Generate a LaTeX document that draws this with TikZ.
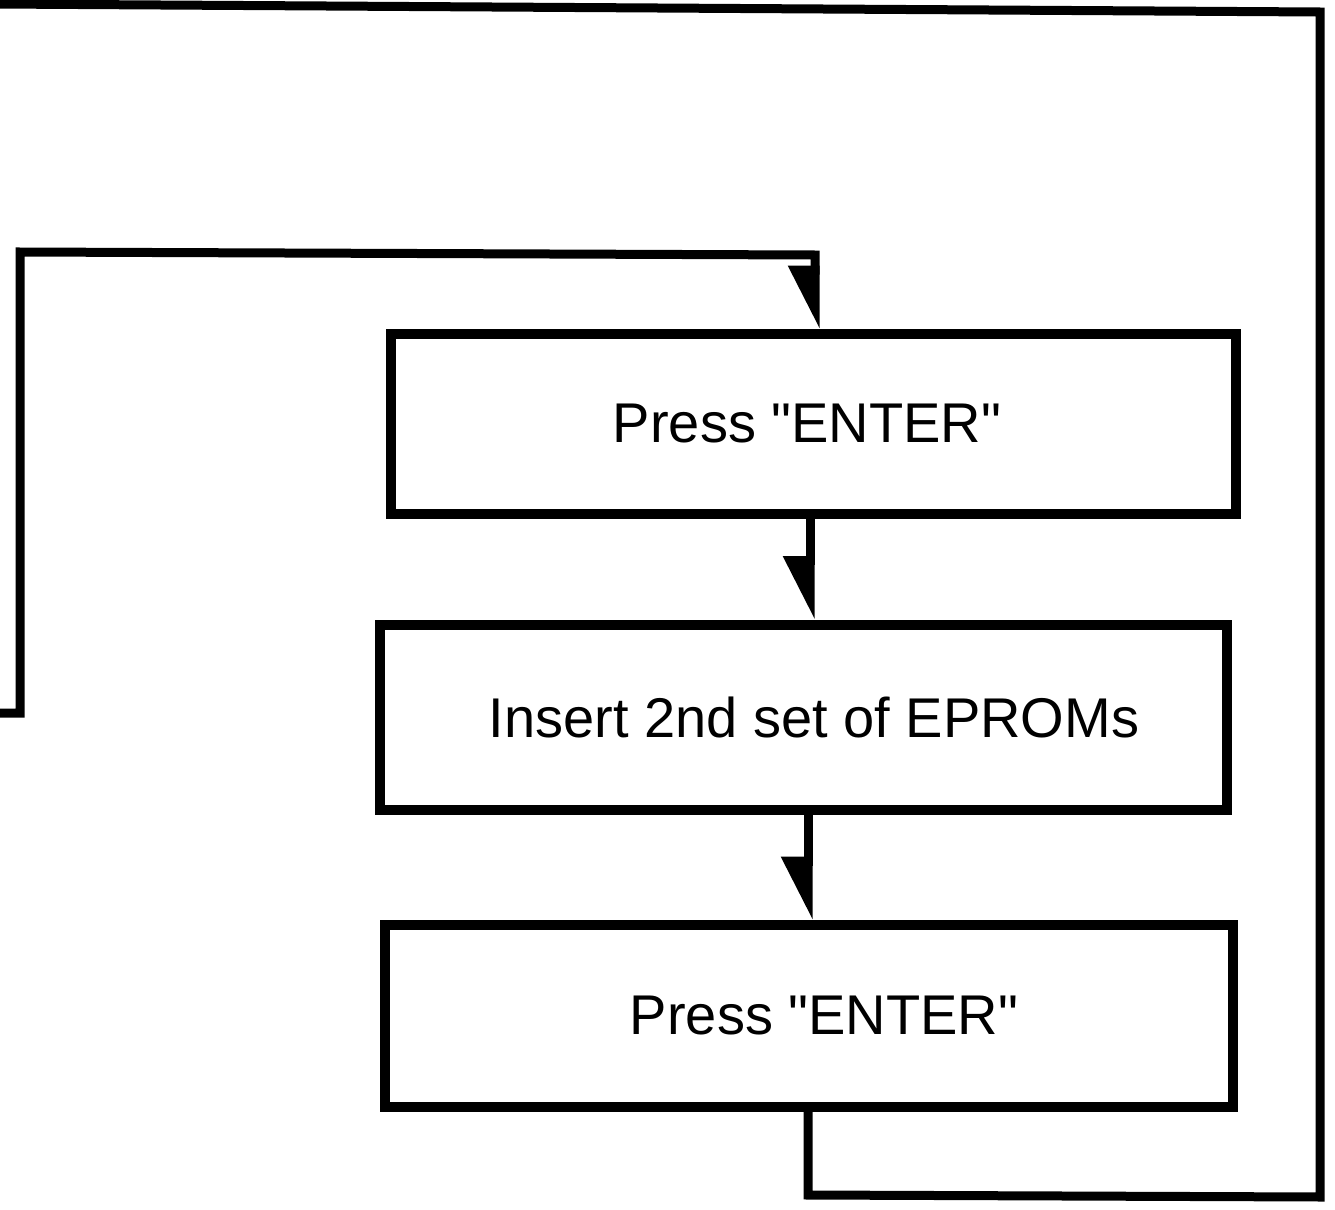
\documentclass[tikz,border=0pt]{standalone}
\usepackage{fontspec}
\newfontfamily\boxfont{Liberation Sans}
\usetikzlibrary{arrows.meta}
\begin{document}
\begin{tikzpicture}[x=0.5pt,y=-0.5pt,
  stepbox/.style={draw,line width=5pt,inner sep=0pt,font=\boxfont\fontsize{28}{32}\selectfont},
  conn/.style={line width=4.5pt,line join=miter},
  harrow/.style={conn,-{Triangle[right,length=27pt,width=26pt]}}]
\useasboundingbox (0,0) rectangle (1335,1210);
\node[stepbox,minimum width=845pt/2,minimum height=180pt/2] (b1) at (813,424) {\hspace*{-6pt}Press "ENTER"};
\node[stepbox,minimum width=847pt/2,minimum height=185pt/2] (b2) at (803,717) {\hspace*{11pt}Insert 2nd set of EPROMs};
\node[stepbox,minimum width=848pt/2,minimum height=182pt/2] (b3) at (809,1016) {\hspace*{15pt}Press "ENTER"};
\coordinate (topL) at (-5,4);
\coordinate (topR) at (1320,12);
\coordinate (botR) at (1320,1197);
\coordinate (botM) at (808,1195);
\coordinate (leftE) at (-5,713);
\coordinate (leftC) at (20,713);
\coordinate (leftT) at (20,252);
\coordinate (midT) at (815,255);
\draw[conn] (topL) -- (topR) -- (botR) -- (botM) -- (b3.south -| botM);
\draw[harrow] (leftE) -- (leftC) -- (leftT) -- (midT) -- (b1.north -| midT);
\draw[harrow] (b1.south -| 810,0) -- (b2.north -| 810,0);
\draw[harrow] (b2.south -| 808,0) -- (b3.north -| 808,0);
\end{tikzpicture}
\end{document}
